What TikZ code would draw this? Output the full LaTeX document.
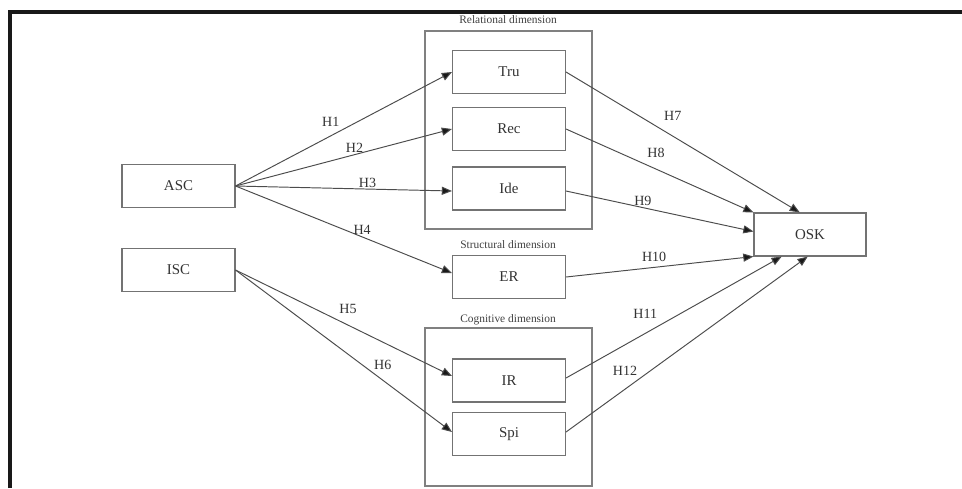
\documentclass[tikz,border=0pt]{standalone}
\usepackage{fontspec}
\setmainfont{Liberation Serif}
\usetikzlibrary{arrows.meta,calc,positioning}

\tikzset{
  var/.style={draw=black!55, line width=0.6pt, minimum width=2.26cm, minimum height=0.86cm,
    inner sep=0pt, font=\fontsize{8.5}{10}\selectfont, text=black!80},
  groupbox/.style={draw=black!50, line width=0.6pt},
  grouplabel/.style={font=\fontsize{6.5}{7}\selectfont, text=black!75, inner sep=0pt},
  hyp/.style={draw=black!70, line width=0.55pt, -{Triangle[length=5.8pt,width=4.6pt,fill=black!90]}},
  hlabel/.style={font=\fontsize{8}{9}\selectfont, text=black!80, inner sep=1pt},
}

\begin{document}
\begin{tikzpicture}[x=0.02cm, y=-0.02cm]
\useasboundingbox (0,0) rectangle (962,488);

% outer frame (cut off at right and bottom)
\draw[line width=1.8pt, black!90] (10,488) -- (10,12) -- (962,12);

% group boxes
\draw[groupbox] (425,31) rectangle (592,229);
\draw[groupbox] (425,328) rectangle (592,486);
\node[grouplabel] (rellab) at (508,20) {Relational dimension};
\node[grouplabel] (strlab) at (508,245) {Structural dimension};
\node[grouplabel] (coglab) at (508,320) {Cognitive dimension};

% variables
\node[var] (asc) at (178.5,186) {ASC};
\node[var] (isc) at (178.5,270) {ISC};
\node[var] (tru) at (509,72) {Tru};
\node[var] (rec) at (509,129) {Rec};
\node[var] (ide) at (509,188.5) {Ide};
\node[var] (er)  at (509,277) {ER};
\node[var] (ir)  at (509,380.5) {IR};
\node[var] (spi) at (509,434) {Spi};
\node[var, minimum width=2.24cm] (osk) at (810,234.5) {OSK};

% hypotheses
\draw[hyp] (asc.east) -- (tru.west) node[hlabel, pos=0.44, above=4pt] {H1};
\draw[hyp] (asc.east) -- (rec.west) node[hlabel, pos=0.55, above] {H2};
\draw[hyp] (asc.east) -- ($(ide.west)+(0,2.5)$) node[hlabel, pos=0.61, above, inner sep=0.3pt] {H3};
\draw[hyp] (asc.east) -- ($(er.west)+(0,-4)$) node[hlabel, pos=0.585, above] {H4};
\draw[hyp] (isc.east) -- ($(ir.west)+(0,-4.5)$) node[hlabel, pos=0.52, above=5pt] {H5};
\draw[hyp] (isc.east) -- ($(spi.west)+(0,-2)$) node[hlabel, pos=0.68, above=5pt] {H6};
\draw[hyp] (tru.east) -- ($(osk.north west)!0.41!(osk.north east)$) node[hlabel, pos=0.41, above right=4pt and 0pt] {H7};
\draw[hyp] (rec.east) -- (osk.north west) node[hlabel, pos=0.48, above=5pt] {H8};
\draw[hyp] ($(ide.east)+(0,2.5)$) -- ($(osk.west)+(0,-3)$) node[hlabel, pos=0.41, above] {H9};
\draw[hyp] (er.east) -- (osk.south west) node[hlabel, pos=0.47, above=2pt] {H10};
\draw[hyp] ($(ir.east)+(0,-2.5)$) -- ($(osk.south west)!0.25!(osk.south east)$) node[hlabel, pos=0.4, above left=5pt and -4pt] {H11};
\draw[hyp] ($(spi.east)+(0,-2)$) -- ($(osk.south west)!0.48!(osk.south east)$) node[hlabel, pos=0.26, above left=5pt and -6pt] {H12};

\end{tikzpicture}
\end{document}
